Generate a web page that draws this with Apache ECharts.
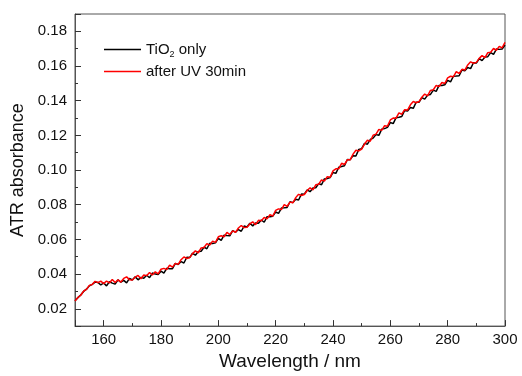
<!DOCTYPE html>
<html><head><meta charset="utf-8">
<script src="https://cdn.jsdelivr.net/npm/echarts@6/dist/echarts.min.js"></script>
<style>html,body{margin:0;padding:0;background:#fff}#c{width:522px;height:376px}</style>
</head><body><div id="c"></div>
<script>
// Wavelength grid (nm), 1 nm step from 150 to 300
const wlStart = 150, wlEnd = 300;
const wavelength = [];
for (let w = wlStart; w <= wlEnd; w++) wavelength.push(w);

const seriesNames = ['TiO2 only', 'after UV 30min'];
const seriesColors = ['#000000', '#ff0000'];

// TiO2 only (black)
const tio2Only = [
0.0246,0.0264,0.0279,0.0300,0.0313,0.0332,0.0341,0.0354,0.0352,0.0337,
0.0349,0.0332,0.0356,0.0348,0.0342,0.0367,0.0353,0.0364,0.0349,0.0375,
0.0366,0.0384,0.0367,0.0381,0.0376,0.0393,0.0379,0.0406,0.0400,0.0398,
0.0417,0.0405,0.0433,0.0431,0.0431,0.0462,0.0455,0.0472,0.0464,0.0497,
0.0495,0.0520,0.0509,0.0530,0.0532,0.0555,0.0546,0.0578,0.0577,0.0580,
0.0606,0.0595,0.0624,0.0622,0.0621,0.0651,0.0642,0.0657,0.0647,0.0677,
0.0672,0.0693,0.0678,0.0695,0.0693,0.0712,0.0699,0.0731,0.0731,0.0734,
0.0758,0.0750,0.0781,0.0782,0.0784,0.0817,0.0812,0.0832,0.0827,0.0862,
0.0861,0.0886,0.0875,0.0896,0.0898,0.0922,0.0915,0.0949,0.0951,0.0957,
0.0986,0.0981,0.1016,0.1020,0.1025,0.1061,0.1060,0.1083,0.1081,0.1119,
0.1123,0.1154,0.1149,0.1176,0.1184,0.1205,0.1200,0.1236,0.1239,0.1246,
0.1274,0.1268,0.1302,0.1305,0.1309,0.1344,0.1341,0.1361,0.1356,0.1391,
0.1391,0.1418,0.1409,0.1432,0.1436,0.1461,0.1454,0.1488,0.1488,0.1492,
0.1517,0.1509,0.1541,0.1542,0.1544,0.1577,0.1572,0.1591,0.1585,0.1619,
0.1617,0.1642,0.1631,0.1652,0.1654,0.1677,0.1667,0.1698,0.1696,0.1698,
0.1721];

// after UV 30min (red)
const afterUV = [
0.0245,0.0265,0.0278,0.0302,0.0312,0.0335,0.0340,0.0358,0.0351,0.0359,
0.0345,0.0360,0.0349,0.0369,0.0351,0.0367,0.0354,0.0375,0.0384,0.0368,
0.0366,0.0382,0.0392,0.0373,0.0395,0.0391,0.0409,0.0395,0.0413,0.0401,
0.0428,0.0433,0.0426,0.0452,0.0440,0.0462,0.0456,0.0483,0.0499,0.0490,
0.0495,0.0518,0.0534,0.0522,0.0551,0.0553,0.0576,0.0567,0.0590,0.0583,
0.0615,0.0621,0.0615,0.0641,0.0628,0.0649,0.0641,0.0666,0.0680,0.0668,
0.0670,0.0689,0.0701,0.0685,0.0710,0.0708,0.0727,0.0718,0.0742,0.0735,
0.0767,0.0776,0.0772,0.0801,0.0791,0.0815,0.0811,0.0841,0.0860,0.0853,
0.0859,0.0882,0.0898,0.0886,0.0915,0.0918,0.0943,0.0936,0.0962,0.0958,
0.0995,0.1007,0.1007,0.1039,0.1032,0.1059,0.1059,0.1092,0.1114,0.1110,
0.1121,0.1150,0.1172,0.1166,0.1201,0.1207,0.1234,0.1229,0.1256,0.1253,
0.1289,0.1300,0.1299,0.1330,0.1322,0.1348,0.1346,0.1376,0.1395,0.1388,
0.1395,0.1420,0.1438,0.1428,0.1459,0.1463,0.1488,0.1481,0.1505,0.1499,
0.1532,0.1541,0.1538,0.1567,0.1557,0.1581,0.1577,0.1606,0.1624,0.1616,
0.1621,0.1644,0.1660,0.1648,0.1677,0.1679,0.1701,0.1691,0.1713,0.1705,
0.1736];

const xMin = 150, xMax = 300, yMin = 0.01, yMax = 0.19;

const font = 'Arial, "Liberation Sans", sans-serif';
const chart = echarts.init(document.getElementById('c'), null, {renderer: 'canvas'});
const pair = arr => wavelength.map((w, i) => [w, arr[i]]);

chart.setOption({
  animation: false,
  backgroundColor: '#fff',
  grid: {left: 75, right: 17, top: 14, bottom: 45, show: true, borderColor: '#555', borderWidth: 1, backgroundColor: 'transparent'},
  legend: {
    orient: 'vertical', left: 104, top: 42, padding: 0, itemWidth: 37, itemHeight: 1.3, itemGap: 5,
    icon: 'rect',
    data: seriesNames.map((n, i) => ({name: n, itemStyle: {color: seriesColors[i], opacity: 1}})),
    textStyle: {fontFamily: font, fontSize: 15, color: '#111',
      rich: {sub: {fontFamily: font, fontSize: 9, color: '#111', padding: [10, 0, 0, 0]}}},
    formatter: n => n === 'TiO2 only' ? 'TiO{sub|2} only' : n
  },
  xAxis: {
    type: 'value', min: xMin, max: xMax, splitNumber: 7,
    name: 'Wavelength / nm', nameLocation: 'middle', nameGap: 25,
    nameTextStyle: {fontFamily: font, fontSize: 19, color: '#111'},
    axisLine: {lineStyle: {color: '#555', width: 1}},
    axisTick: {inside: true, length: 6, lineStyle: {color: '#333'}},
    minorTick: {show: true, splitNumber: 2, length: 3, lineStyle: {color: '#333'}},
    axisLabel: {showMinLabel: false, fontFamily: font, fontSize: 15, color: '#111', margin: 6},
    splitLine: {show: false}
  },
  yAxis: {
    type: 'value', min: yMin, max: yMax, splitNumber: 9,
    name: 'ATR absorbance', nameLocation: 'middle', nameGap: 46,
    nameTextStyle: {fontFamily: font, fontSize: 18, color: '#111'},
    axisLine: {show: true, lineStyle: {color: '#555', width: 1}},
    axisTick: {show: true, inside: true, length: 6, lineStyle: {color: '#333'}},
    minorTick: {show: true, splitNumber: 2, length: 3, lineStyle: {color: '#333'}},
    axisLabel: {showMinLabel: false, showMaxLabel: false, fontFamily: font, fontSize: 15, color: '#111', margin: 8,
      formatter: v => v.toFixed(2)},
    splitLine: {show: false}
  },
  series: [
    {name: seriesNames[0], type: 'line', data: pair(tio2Only), symbol: 'none', lineStyle: {color: seriesColors[0], width: 1.5}, itemStyle: {color: seriesColors[0]}, z: 2},
    {name: seriesNames[1], type: 'line', data: pair(afterUV), symbol: 'none', lineStyle: {color: seriesColors[1], width: 1.5}, itemStyle: {color: seriesColors[1]}, z: 3}
  ]
});
</script></body></html>
